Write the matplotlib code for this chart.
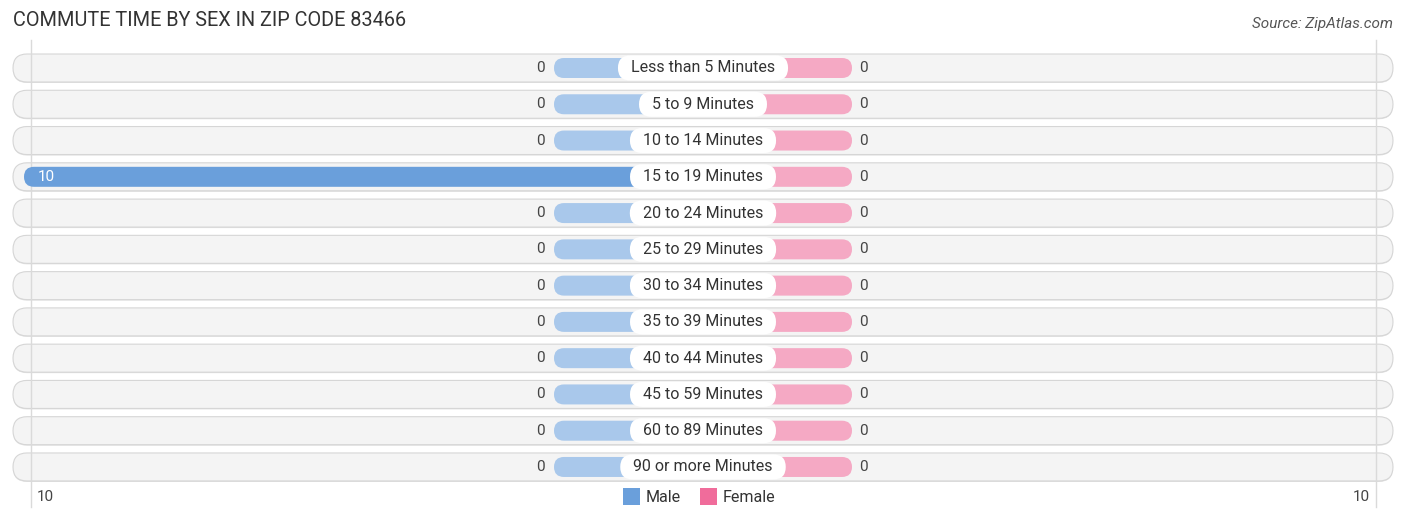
import numpy as np
import matplotlib.pyplot as plt
from matplotlib.patches import FancyBboxPatch

categories = ["Less than 5 Minutes", "5 to 9 Minutes", "10 to 14 Minutes", "15 to 19 Minutes",
              "20 to 24 Minutes", "25 to 29 Minutes", "30 to 34 Minutes", "35 to 39 Minutes",
              "40 to 44 Minutes", "45 to 59 Minutes", "60 to 89 Minutes", "90 or more Minutes"]
male = [0, 0, 0, 10, 0, 0, 0, 0, 0, 0, 0, 0]
female = [0, 0, 0, 0, 0, 0, 0, 0, 0, 0, 0, 0]
axis_max = 10

plt.rcParams['font.family'] = ['Roboto', 'DejaVu Sans']

W, H = 1406, 523
fig = plt.figure(figsize=(W / 100, H / 100), dpi=100)
ax = fig.add_axes([0, 0, 1, 1])

# pixel geometry
cx = 703
px_unit = 67.9          # pixels per value unit
row0, row_step = 68, 36.27
ax.set_xlim(-cx / px_unit, (W - cx) / px_unit)
ax.set_ylim((H - row0) / row_step, -row0 / row_step)
ax.axis('off')

ma = px_unit / row_step   # aspect for round corners
def px(v):
    return v / px_unit
def py(v):
    return v / row_step

def pill(x0, x1, y, h_px, color, z, ec='none', lw=0):
    h = py(h_px)
    r = px(h_px / 2)
    p = FancyBboxPatch((x0, y - h / 2), max(x1 - x0, 2 * r), h,
                       boxstyle=f"round,pad=0,rounding_size={r}", mutation_aspect=ma,
                       fc=color, ec=ec, lw=lw, zorder=z)
    ax.add_patch(p)
    return p

stub = px(149)
n = len(categories)

# faint grid lines at +-10
for xv in (-axis_max + px(7), axis_max - px(6)):
    ax.plot([xv, xv], [py(40 - row0), py(507 - row0)], color='#dadada', lw=1, zorder=2.5)

for i, cat in enumerate(categories):
    y = i
    # row background
    pill(px(13 - cx), px(1393 - cx), y + py(1), 28, '#e2e2e2', 1)
    pill(px(13 - cx), px(1393 - cx), y, 28, '#f4f4f4', 2, ec='#d6d6d6', lw=0.8)

    m = male[i]
    f = female[i]
    if m > 0:
        pill(-m, 0, y, 20, '#6a9fdb', 3)
        ax.text(-m + px(14), y, str(m), color='white', fontsize=11, va='center', ha='left', zorder=6)
    else:
        pill(-stub, 0, y, 20, '#a9c8eb', 3)
        ax.text(-stub - px(9), y, str(m), color='#444444', fontsize=11, va='center', ha='right', zorder=6)
    if f > 0:
        pill(0, f, y, 20, '#f07aa2', 3)
        ax.text(f - px(14), y, str(f), color='white', fontsize=11, va='center', ha='right', zorder=6)
    else:
        pill(0, stub, y, 20, '#f5a9c4', 3)
        ax.text(stub + px(7), y, str(f), color='#444444', fontsize=11, va='center', ha='left', zorder=6)

    ax.text(0, y, cat, color='#333333', fontsize=11.5, va='center', ha='center', zorder=8)

fig.canvas.draw()
inv = ax.transData.inverted()
for t in list(ax.texts):
    if t.get_text() in categories:
        bb = t.get_window_extent()
        x0 = inv.transform((bb.x0, 0))[0] - px(13)
        x1 = inv.transform((bb.x1, 0))[0] + px(13)
        y = t.get_position()[1]
        pill(x0, x1, y, 25, 'white', 7)

# axis labels and legend
yb = py(497 - row0)
ax.text(px(45 - cx), yb, str(axis_max), color='#444444', fontsize=11, ha='center', va='center')
ax.text(px(1361 - cx), yb, str(axis_max), color='#444444', fontsize=11, ha='center', va='center')

ax.add_patch(plt.Rectangle((px(623 - cx), yb - py(8.5)), px(17), py(17), fc='#6a9fdb', ec='none'))
ax.text(px(646 - cx), yb, 'Male', color='#333333', fontsize=11.5, ha='left', va='center')
ax.add_patch(plt.Rectangle((px(700 - cx), yb - py(8.5)), px(17), py(17), fc='#f06c9b', ec='none'))
ax.text(px(723 - cx), yb, 'Female', color='#333333', fontsize=11.5, ha='left', va='center')

fig.text(13 / W, 1 - 21 / H, 'COMMUTE TIME BY SEX IN ZIP CODE 83466', fontsize=14.3,
         color='#333333', ha='left', va='center')
fig.text(1393 / W, 1 - 24 / H, 'Source: ZipAtlas.com', fontsize=11, color='#555555',
         ha='right', va='center', style='italic')

fig.savefig('out.png', dpi=100, facecolor='white')
